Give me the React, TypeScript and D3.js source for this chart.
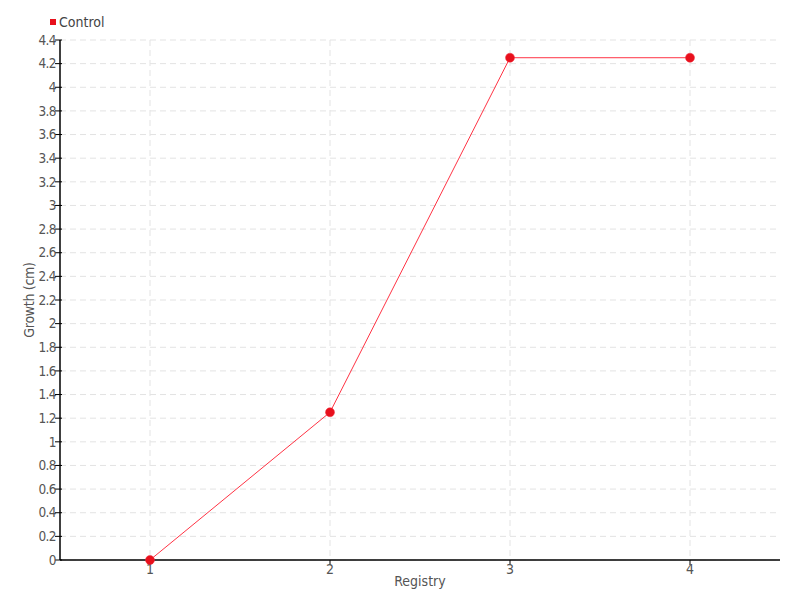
import React from "react";
import * as d3 from "d3";

const categories = ["1", "2", "3", "4"];
const controlValues = [0, 1.25, 4.25, 4.25];
const yTicks = [0, 0.2, 0.4, 0.6, 0.8, 1, 1.2, 1.4, 1.6, 1.8, 2, 2.2, 2.4, 2.6, 2.8, 3, 3.2, 3.4, 3.6, 3.8, 4, 4.2, 4.4];
const seriesName = "Control";

const W = 800, H = 600;
const M = { left: 60, right: 20, top: 40, bottom: 40 };
const FONT = "'DejaVu Sans Condensed', 'Liberation Sans Narrow', 'Roboto', sans-serif";

export default function App() {
  const x = d3.scaleBand<string>().domain(categories).range([M.left, W - M.right]);
  const y = d3.scaleLinear().domain([0, 4.4]).range([H - M.bottom, M.top]);
  const cx = (c: string) => (x(c) as number) + x.bandwidth() / 2;
  const line = d3.line<number>().x((_, i) => cx(categories[i])).y((v) => y(v));
  const y0 = y(0);

  return (
    <svg width={W} height={H} style={{ position: "absolute", left: 0, top: 0, background: "#fff" }} fontFamily={FONT}>
      {/* grid */}
      {yTicks.map((t) => (
        <line key={"gy" + t} x1={M.left} x2={W - M.right} y1={y(t)} y2={y(t)} stroke="#e3e3e3" strokeDasharray="6,4" />
      ))}
      {categories.map((c) => (
        <line key={"gx" + c} x1={cx(c)} x2={cx(c)} y1={M.top} y2={y0} stroke="#e3e3e3" strokeDasharray="6,4" />
      ))}
      {/* axes */}
      <line x1={M.left} x2={M.left} y1={M.top} y2={y0} stroke="#000" strokeWidth={1.5} />
      <line x1={M.left} x2={W - M.right} y1={y0} y2={y0} stroke="#000" strokeWidth={1.5} />
      {yTicks.map((t) => (
        <g key={"ty" + t}>
          <line x1={M.left - 5} x2={M.left + 2} y1={y(t)} y2={y(t)} stroke="#000" />
          <text x={M.left - 4} y={y(t)} dy="0.35em" textAnchor="end" fontSize={13.5} letterSpacing={-0.6} fill="#555">
            {d3.format("")(Math.round(t * 10) / 10)}
          </text>
        </g>
      ))}
      {categories.map((c) => (
        <g key={"tx" + c}>
          <line x1={cx(c)} x2={cx(c)} y1={y0} y2={y0 + 5} stroke="#000" />
          <text x={cx(c)} y={y0 + 14} textAnchor="middle" fontSize={14} fill="#555">{c}</text>
        </g>
      ))}
      <text x={420} y={586} textAnchor="middle" fontSize={14} fill="#555">Registry</text>
      <text transform={`translate(34,300) rotate(-90)`} textAnchor="middle" fontSize={14} letterSpacing={-0.3} fill="#555">Growth (cm)</text>
      {/* series */}
      <path d={line(controlValues) || ""} fill="none" stroke="#ff3344" strokeWidth={1} />
      {controlValues.map((v, i) => (
        <circle key={"p" + i} cx={cx(categories[i])} cy={y(v)} r={4.5} fill="#e8101c" stroke="#f03040" strokeWidth={0.5} />
      ))}
      {/* legend */}
      <rect x={50} y={19} width={6} height={6} fill="#e8101c" />
      <text x={59} y={22} dy="0.35em" fontSize={14} fill="#444">{seriesName}</text>
    </svg>
  );
}
